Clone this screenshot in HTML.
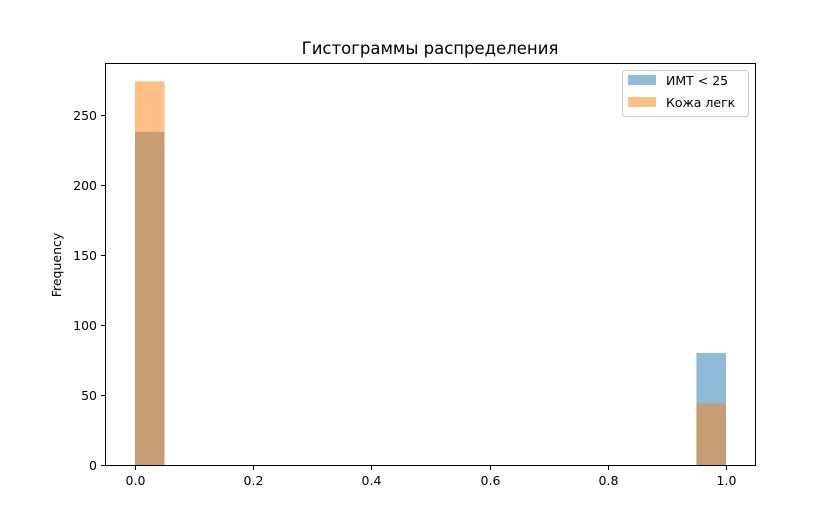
<!DOCTYPE html>
<html><head><meta charset="utf-8"><style>body{margin:0;background:#fff}svg{display:block;font-family:"DejaVu Sans","Liberation Sans",sans-serif}</style></head>
<body>
<svg id="chart" width="840" height="522">
<text x="430" y="54" font-size="16.5" text-anchor="middle">Гистограммы распределения</text>
<g id="bars"></g>
<rect x="105.5" y="63.5" width="650" height="402" fill="none" stroke="#000" stroke-width="1"/>
<g id="xticks"></g><g id="yticks"></g>
<text transform="translate(61,265) rotate(-90)" font-size="12.5" text-anchor="middle">Frequency</text>
<g>
<rect x="622.5" y="70.5" width="126" height="46" rx="3" fill="#fff" fill-opacity="0.8" stroke="#ccc"/>
<rect x="628" y="75" width="28" height="10" fill="#1f77b4" fill-opacity="0.5"/>
<text x="666" y="85" font-size="12.5">ИМТ &lt; 25</text>
<rect x="628" y="97" width="28" height="10" fill="#ff7f0e" fill-opacity="0.5"/>
<text x="666" y="107" font-size="12.5">Кожа легк</text>
</g>
</svg>
<script>
const binStarts=[0,0.95];
const binWidth=0.05;
const bmiValues=[238,80];
const skinValues=[274,44];
const xTicks=[0,0.2,0.4,0.6,0.8,1.0];
const xTickLabels=["0.0","0.2","0.4","0.6","0.8","1.0"];
const yTicks=[0,50,100,150,200,250];
const NS="http://www.w3.org/2000/svg";
const xs=v=>135+v*591, ys=v=>465-v*1.4;
const bars=document.getElementById('bars');
function mk(t,a,p){const e=document.createElementNS(NS,t);for(const k in a)e.setAttribute(k,a[k]);p.appendChild(e);return e;}
[[bmiValues,'#1f77b4','bmi'],[skinValues,'#ff7f0e','skin']].forEach(([vals,col,nm])=>{
 vals.forEach((v,i)=>{
  const r=mk('rect',{x:xs(binStarts[i]),y:ys(v),width:xs(binStarts[i]+binWidth)-xs(binStarts[i]),height:ys(0)-ys(v),fill:col,'fill-opacity':0.5},bars);
  
  
 });
});
const xg=document.getElementById('xticks');
xTicks.forEach((v,i)=>{
 const x=Math.round(xs(v))+0.5;
 mk('line',{x1:x,x2:x,y1:466,y2:470,stroke:'#000'},xg);
 const t=mk('text',{x:x,y:485,'font-size':12.5,'text-anchor':'middle'},xg);t.textContent=xTickLabels[i];
 
 
});
const yg=document.getElementById('yticks');
yTicks.forEach(v=>{
 const y=Math.round(ys(v))+0.5;
 mk('line',{x1:101,x2:105,y1:y,y2:y,stroke:'#000'},yg);
 const t=mk('text',{x:97,y:y+4.5,'font-size':12.5,'text-anchor':'end'},yg);t.textContent=v;
 
 
});
</script>
</body></html>
